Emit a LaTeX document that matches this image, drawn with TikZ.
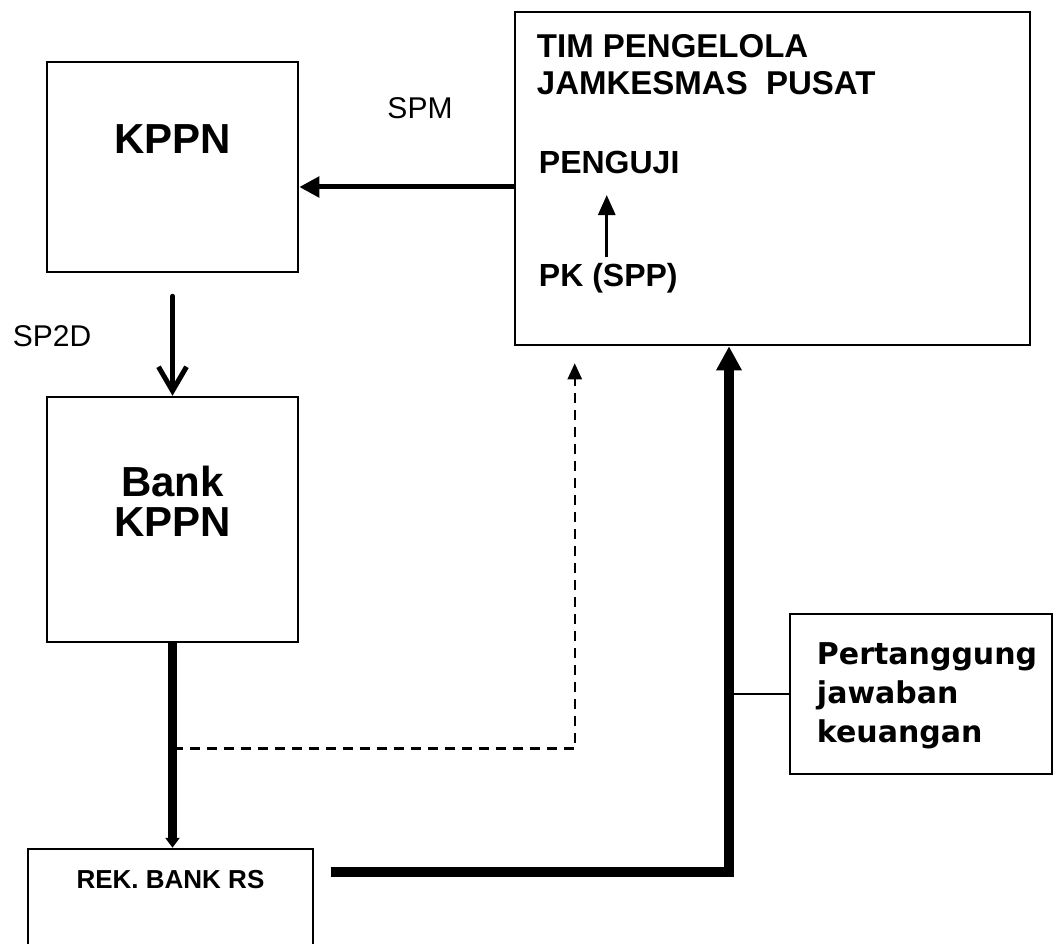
\documentclass[tikz,border=0pt]{standalone}
\usepackage{fontspec}
\setmainfont{Liberation Sans}
\newfontfamily\verdanafont{DejaVu Sans}
\usetikzlibrary{arrows.meta,positioning}

\begin{document}
\begin{tikzpicture}[x=1pt,y=-1pt,
  box/.style={draw, line width=2.5pt, inner sep=0pt},
  bigtext/.style={font=\fontsize{42}{40}\selectfont\bfseries, align=center, inner sep=0pt},
  midtext/.style={font=\fontsize{32}{37}\selectfont\bfseries, align=left, inner sep=0pt},
  flowlabel/.style={font=\fontsize{30}{30}\selectfont, inner sep=0pt}]
\useasboundingbox[fill=white] (0,0) rectangle (1060,944);
% Boxes
\node[box, minimum width=251, minimum height=210] (kppn) at (172.5,167) {};
\node[box, minimum width=251, minimum height=245] (bank) at (172.5,519.5) {};
\node[box, minimum width=285, minimum height=140] (rek) at (170.5,919) {};
\node[box, minimum width=515, minimum height=333] (tim) at (772.5,178.5) {};
\node[box, minimum width=262, minimum height=160] (pj) at (921,694) {};
% Box texts
\node[bigtext] (kppnname) at ([yshift=-78pt]kppn.north) {KPPN};
\node[bigtext] (bankname) at ([yshift=-106pt]bank.north) {Bank\\KPPN};
\node[font=\fontsize{26}{26}\selectfont\bfseries, inner sep=0pt] (rekname) at ([yshift=-32pt]rek.north) {REK. BANK RS};
\node[midtext, font=\fontsize{33}{37}\selectfont\bfseries, anchor=north west] (timname) at ([xshift=23pt,yshift=-24pt]tim.north west) {TIM PENGELOLA\\JAMKESMAS\ \ PUSAT};
\node[midtext, anchor=west] (penguji) at ([xshift=25pt,yshift=16pt]tim.west) {PENGUJI};
\node[midtext, anchor=west] (pk) at ([xshift=25pt,yshift=-100pt]tim.west) {PK (SPP)};
\node[font=\verdanafont\fontsize{30}{39}\selectfont\bfseries, align=left, inner sep=0pt, anchor=north west] (pjname) at ([xshift=28pt,yshift=-30pt]pj.north west) {Pertanggung\\jawaban\\keuangan};
% Labels
\node[flowlabel] (spm) at (420,108) {SPM};
\node[flowlabel] (sp2d) at (52,336) {SP2D};
% Arrows
\coordinate (spmend) at ([yshift=-20pt]kppn.east);
\draw[line width=5pt, -{Triangle[length=20pt,width=20pt]}] (spmend -| tim.west) -- (spmend);
\draw[line width=5pt, line cap=round, -{Straight Barb[length=24pt,width=28pt]}] ([yshift=-23pt]kppn.south) -- (bank.north);
\draw[line width=3pt, -{Triangle[length=20pt,width=17pt]}] ([xshift=68pt,yshift=6pt]pk.north west) -- ([xshift=68pt,yshift=-21pt]penguji.south west);
\draw[line width=9pt, -{Triangle[length=10pt,width=14pt]}] (bank.south) -- (bank.south |- rek.north);
% Dashed return
\coordinate (dashfork) at ([yshift=-105pt]bank.south);
\coordinate (dashtip) at ([xshift=61pt,yshift=-17pt]tim.south west);
\draw[line width=2.5pt, dash pattern=on 10pt off 7pt, -{Triangle[length=16pt,width=14pt]}] (dashfork) -| (dashtip);
% Thick line to TIM
\coordinate (rekout) at ([xshift=17pt,yshift=-24pt]rek.north east);
\coordinate (timin) at ([xshift=-43.5pt]tim.south);
\draw[line width=10pt, -{Triangle[length=24pt,width=24pt]}] (rekout) -| (timin);
\draw[line width=2pt] (pj.west) -- (pj.west -| timin);
\end{tikzpicture}
\end{document}
